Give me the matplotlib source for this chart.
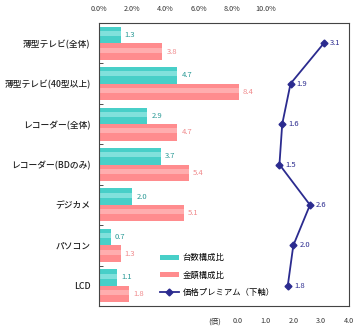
import numpy as np
import matplotlib
matplotlib.use('Agg')
import matplotlib.pyplot as plt
from matplotlib.lines import Line2D
from matplotlib.patches import Patch

plt.rcParams['font.family'] = ['Noto Sans CJK JP', 'DejaVu Sans']

# data
categories = ['薄型テレビ(全体)', '薄型テレビ(40型以上)', 'レコーダー(全体)',
              'レコーダー(BDのみ)', 'デジカメ', 'パソコン', 'LCD']
unit_share = [1.3, 4.7, 2.9, 3.7, 2.0, 0.7, 1.1]      # 台数構成比 (%)
value_share = [3.8, 8.4, 4.7, 5.4, 5.1, 1.3, 1.8]     # 金額構成比 (%)
premium = [3.1, 1.9, 1.6, 1.5, 2.6, 2.0, 1.8]         # 価格プレミアム (倍)
top_ticks = [0, 2, 4, 6, 8, 10]
bottom_ticks = [0, 1, 2, 3, 4]

cyan = '#48CFC8'
cyan_lt = '#A8EEEA'
pink = '#FF8C8E'
pink_lt = '#FFC4C4'
navy = '#2B2B8F'

fig = plt.figure(figsize=(3.6, 3.29), dpi=100)
ax = fig.add_axes([0.275, 0.070, 0.694, 0.860])
ax2 = ax.twiny()

y = np.arange(len(categories))
h = 0.41
ax.barh(y - 0.205, unit_share, height=h, color=cyan, edgecolor='none')
ax.barh(y - 0.24, unit_share, height=h * 0.3, color=cyan_lt, edgecolor='none', alpha=0.6)
ax.barh(y + 0.205, value_share, height=h, color=pink, edgecolor='none')
ax.barh(y + 0.17, value_share, height=h * 0.3, color=pink_lt, edgecolor='none', alpha=0.6)

for i in range(len(categories)):
    ax.text(unit_share[i] + 0.25, y[i] - 0.205, '%.1f' % unit_share[i],
            va='center', ha='left', fontsize=5.5, color='#2A9A96')
    ax.text(value_share[i] + 0.25, y[i] + 0.205, '%.1f' % value_share[i],
            va='center', ha='left', fontsize=5.5, color='#F08A8C')

ax.set_xlim(0, 15)
ax.set_ylim(len(categories) - 0.5, -0.5)
ax.set_xticks(top_ticks)
ax.set_xticklabels(['%.1f%%' % t for t in top_ticks], fontsize=5.2, color='#333333')
ax.tick_params(axis='x', length=0, pad=7)
ax.set_yticks(y)
ax.set_yticklabels(categories, fontsize=6.3, color='#222222', fontweight='medium')
ax.tick_params(axis='y', which='major', length=0, pad=6)
ax.set_yticks(np.arange(0.5, len(categories) - 0.5, 1), minor=True)
ax.tick_params(axis='y', which='minor', direction='in', length=3, width=0.6, color='#333333')
for s in ax.spines.values():
    s.set_color('#444444')
    s.set_linewidth(0.8)

# premium line on bottom axis
ax2.plot(premium, y, color=navy, lw=1.3, marker='D', ms=3.5, zorder=5)
for i in range(len(categories)):
    ax2.text(premium[i] + 0.22, y[i], '%.1f' % premium[i], va='center', ha='left',
             fontsize=5.5, color=navy)
ax2.set_xlim(-5, 4)
ax2.xaxis.tick_bottom()
ax2.set_xticks(bottom_ticks)
ax2.set_xticklabels(['%.1f' % t for t in bottom_ticks], fontsize=5.2, color='#333333')
ax2.tick_params(axis='x', length=0, pad=8)
ax2.text(-0.85, -0.055, '(倍)', transform=ax2.get_xaxis_transform(),
         fontsize=5.5, color='#333333', ha='center', va='center')
for s in ax2.spines.values():
    s.set_visible(False)
# keep the percent axis on top (twiny moves it down)
ax.xaxis.tick_top()
ax.xaxis.set_label_position('top')

handles = [Patch(facecolor=cyan, edgecolor='none'),
           Patch(facecolor=pink, edgecolor='none'),
           Line2D([], [], color=navy, lw=1.3, marker='D', ms=3.5)]
labels = ['台数構成比', '金額構成比', '価格プレミアム（下軸）']
ax2.legend(handles, labels, loc='lower left', bbox_to_anchor=(0.215, 0.005),
           frameon=False, fontsize=6, handlelength=2.2, handleheight=0.5,
           labelspacing=1.0, handletextpad=0.5)

fig.savefig('out.png', dpi=100)
